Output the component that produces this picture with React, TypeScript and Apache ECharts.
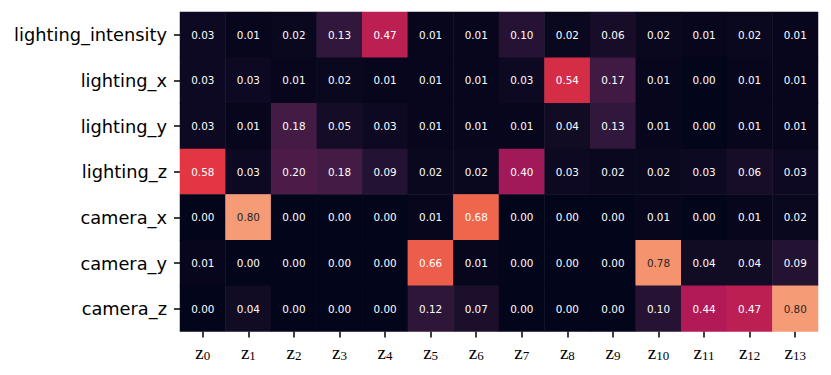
import React, { useEffect, useRef } from "react";
import * as echarts from "echarts";

const rowLabels = [
  "lighting_intensity",
  "lighting_x",
  "lighting_y",
  "lighting_z",
  "camera_x",
  "camera_y",
  "camera_z",
];

const colLabels = ["0", "1", "2", "3", "4", "5", "6", "7", "8", "9", "10", "11", "12", "13"];

const lightingIntensity = [0.03, 0.01, 0.02, 0.13, 0.47, 0.01, 0.01, 0.10, 0.02, 0.06, 0.02, 0.01, 0.02, 0.01];
const lightingX = [0.03, 0.03, 0.01, 0.02, 0.01, 0.01, 0.01, 0.03, 0.54, 0.17, 0.01, 0.00, 0.01, 0.01];
const lightingY = [0.03, 0.01, 0.18, 0.05, 0.03, 0.01, 0.01, 0.01, 0.04, 0.13, 0.01, 0.00, 0.01, 0.01];
const lightingZ = [0.58, 0.03, 0.20, 0.18, 0.09, 0.02, 0.02, 0.40, 0.03, 0.02, 0.02, 0.03, 0.06, 0.03];
const cameraX = [0.00, 0.80, 0.00, 0.00, 0.00, 0.01, 0.68, 0.00, 0.00, 0.00, 0.01, 0.00, 0.01, 0.02];
const cameraY = [0.01, 0.00, 0.00, 0.00, 0.00, 0.66, 0.01, 0.00, 0.00, 0.00, 0.78, 0.04, 0.04, 0.09];
const cameraZ = [0.00, 0.04, 0.00, 0.00, 0.00, 0.12, 0.07, 0.00, 0.00, 0.00, 0.10, 0.44, 0.47, 0.80];

const rows = [lightingIntensity, lightingX, lightingY, lightingZ, cameraX, cameraY, cameraZ];

// seaborn "rocket" colormap stops (evenly spaced 0..1)
const rocket = ["#03051A", "#35193E", "#701F57", "#AD1759", "#E13342", "#F37651", "#F6B48F", "#FAEBDD"];

export default function App() {
  const ref = useRef<HTMLDivElement>(null);

  useEffect(() => {
    if (!ref.current) return;
    const chart = echarts.init(ref.current, undefined, { renderer: "svg" });

    const data: any[] = [];
    rows.forEach((row, r) => {
      row.forEach((v, c) => {
        data.push({
          value: [c, r, v],
          label: { color: v >= 0.75 ? "#262626" : "#ffffff" },
        });
      });
    });

    const tick = {
      show: true,
      alignWithLabel: true,
      interval: 0,
      length: 6,
      lineStyle: { color: "#000000", width: 1.5 },
    };

    chart.setOption({
      animation: false,
      grid: { left: 180, right: 13, top: 12, bottom: 43.5 },
      xAxis: {
        type: "category",
        data: colLabels,
        axisLine: { show: false },
        axisTick: tick,
        axisLabel: {
          interval: 0,
          margin: 11,
          formatter: (v: string) => `{z|z}{s|${v}}`,
          rich: {
            z: {
              fontFamily: "Liberation Serif",
              fontSize: 19,
              lineHeight: 19,
              verticalAlign: "bottom",
              color: "#000",
            },
            s: {
              fontFamily: "Liberation Serif",
              fontSize: 13,
              lineHeight: 13,
              verticalAlign: "bottom",
              color: "#000",
            },
          },
        },
      },
      yAxis: {
        type: "category",
        data: rowLabels,
        inverse: true,
        axisLine: { show: false },
        axisTick: tick,
        axisLabel: {
          interval: 0,
          margin: 13,
          fontFamily: "DejaVu Sans",
          fontSize: 17.8,
          color: "#000",
        },
      },
      visualMap: {
        show: false,
        type: "continuous",
        min: 0,
        max: 1,
        dimension: 2,
        seriesIndex: 0,
        inRange: { color: rocket },
      },
      series: [
        {
          type: "heatmap",
          data,
          label: {
            show: true,
            fontFamily: "DejaVu Sans",
            fontSize: 10.4,
            formatter: (p: any) => p.value[2].toFixed(2),
          },
          emphasis: { disabled: true },
        },
      ],
    });

    return () => chart.dispose();
  }, []);

  return (
    <div
      ref={ref}
      style={{ position: "fixed", left: 0, top: 0, width: 831, height: 375, background: "#fff" }}
    />
  );
}
